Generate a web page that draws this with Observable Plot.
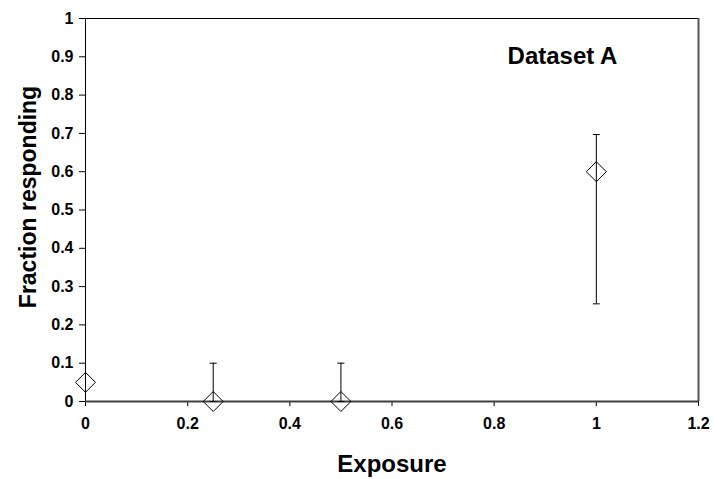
<!DOCTYPE html>
<html>
<head>
<meta charset="utf-8">
<script src="https://cdn.jsdelivr.net/npm/d3@7"></script>
<script src="https://cdn.jsdelivr.net/npm/@observablehq/plot@0.6"></script>
<style>
  body { margin: 0; background: #fff; }
  #chart svg { display: block; }
</style>
</head>
<body>
<div id="chart"></div>
<script>
// Data
const exposure = [0, 0.25, 0.5, 1];
const fraction = [0.05, 0, 0, 0.6];
const errLow = [0.05, 0, 0, 0.255];
const errHigh = [0.05, 0.1, 0.1, 0.697];
const hasError = [false, true, true, true];

const xTicks = [0, 0.2, 0.4, 0.6, 0.8, 1, 1.2];
const yTicks = [0, 0.1, 0.2, 0.3, 0.4, 0.5, 0.6, 0.7, 0.8, 0.9, 1];

const xTitle = "Exposure";
const yTitle = "Fraction responding";
const panelTitle = "Dataset A";

const data = exposure.map((x, i) => ({
  x, y: fraction[i], lo: errLow[i], hi: errHigh[i], err: hasError[i]
}));
const errData = data.filter(d => d.err);
const capPoints = errData.flatMap(d => [{x: d.x, y: d.lo}, {x: d.x, y: d.hi}]);

const capSymbol = {
  draw(ctx) { ctx.moveTo(-3.5, 0); ctx.lineTo(3.5, 0); }
};

const font = "'Liberation Sans', Arial, Helvetica, sans-serif";

const chart = Plot.plot({
  width: 714,
  height: 479,
  marginLeft: 85,
  marginRight: 16,
  marginTop: 18,
  marginBottom: 78,
  style: {fontFamily: font, fontSize: "16px", fontWeight: "bold", color: "#000", background: "#fff"},
  x: {domain: [0, 1.2], ticks: xTicks, tickSize: 5, tickPadding: 11, tickFormat: d => String(+d.toFixed(1)), label: null},
  y: {domain: [0, 1], ticks: yTicks, tickSize: 6, tickPadding: 6, tickFormat: d => String(+d.toFixed(1)), label: null},
  marks: [
    // frame: top (black), right (gray)
    Plot.ruleY([1], {stroke: "#000", strokeWidth: 1}),
    Plot.ruleX([1.2], {stroke: "#555", strokeWidth: 2, y1: 0, y2: 1}),
    Plot.ruleX([0], {stroke: "#000", strokeWidth: 1}),
    Plot.ruleY([0], {stroke: "#404040", strokeWidth: 2}),
    // error bars
    Plot.ruleX(errData, {x: "x", y1: "lo", y2: "hi", stroke: "#000", strokeWidth: 1}),
    Plot.dot(capPoints, {x: "x", y: "y", symbol: capSymbol, stroke: "#000", strokeWidth: 1, r: 4}),
    // markers
    Plot.dot(data, {x: "x", y: "y", symbol: "diamond2", r: 9, stroke: "#000", strokeWidth: 1, fill: "none"}),
    // titles
    Plot.text([xTitle], {frameAnchor: "bottom", dy: 70, lineAnchor: "bottom", fontSize: 24, fontWeight: "bold", fill: "#000"}),
    Plot.text([yTitle], {frameAnchor: "left", dx: -50, dy: -13, rotate: -90, textAnchor: "middle", lineAnchor: "bottom", fontSize: 23, fontWeight: "bold", fill: "#000"}),
    Plot.text([panelTitle], {frameAnchor: "top-right", dx: -136, dy: 45, lineAnchor: "bottom", textAnchor: "middle", fontSize: 24, fontWeight: "bold", fill: "#000"})
  ]
});
// tick labels: bold Arial-like
d3.select(chart).selectAll("text")
  .filter(function () { return /^[0-9.]+$/.test(this.textContent.trim()); })
  .style("font-size", "16px")
  .style("font-weight", "bold")
  .style("font-family", font);
document.getElementById("chart").appendChild(chart);
</script>
</body>
</html>
